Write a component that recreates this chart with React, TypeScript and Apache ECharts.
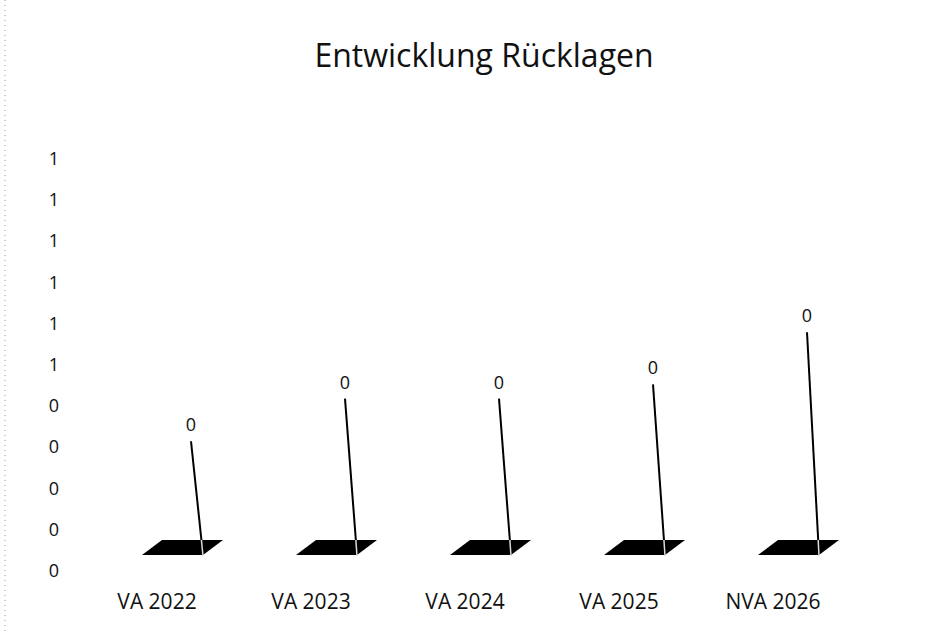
import React, { useEffect, useRef } from "react";
import * as echarts from "echarts";

const title = "Entwicklung Rücklagen";
const categories = ["VA 2022", "VA 2023", "VA 2024", "VA 2025", "NVA 2026"];
const values = [0.24, 0.33, 0.33, 0.36, 0.47];
const axisMin = 0;
const axisMax = 1;
const axisStep = 0.1;

const fmt = (v: number) => String(Math.round(v));

export default function App() {
  const ref = useRef<HTMLDivElement>(null);
  useEffect(() => {
    document.body.style.margin = "0";
    const chart = echarts.init(ref.current!, undefined, { renderer: "svg" });
    const font = "'Open Sans', 'DejaVu Sans', sans-serif";
    chart.setOption({
      animation: false,
      backgroundColor: "#ffffff",
      title: {
        text: title,
        left: 479,
        top: 33,
        textAlign: "center",
        textStyle: { fontFamily: font, fontSize: 32, fontWeight: "normal", color: "#111" },
      },
      grid: [
        { left: 80, right: 99, top: 158, bottom: 62 },
        { left: 126, right: 53, top: 81, bottom: 77 },
      ],
      xAxis: [
        {
          type: "category",
          gridIndex: 0,
          data: categories,
          axisLine: { show: false },
          axisTick: { show: false },
          axisLabel: { fontFamily: font, fontSize: 21, color: "#111", margin: 20 },
        },
        { type: "category", gridIndex: 1, data: categories, show: false },
      ],
      yAxis: [
        {
          type: "value",
          gridIndex: 0,
          min: axisMin,
          max: axisMax,
          interval: axisStep,
          axisLine: { show: false },
          axisTick: { show: false },
          splitLine: { show: false },
          axisLabel: {
            fontFamily: font,
            fontSize: 18,
            color: "#111",
            margin: 21,
            formatter: (v: number) => fmt(v),
          },
        },
        { type: "value", gridIndex: 1, min: axisMin, max: axisMax, show: false },
      ],
      graphic: [
        {
          type: "line",
          shape: { x1: 5, y1: 0, x2: 5, y2: 632 },
          style: { stroke: "#999", lineWidth: 1, lineDash: [1, 4] },
        },
      ],
      series: [
        {
          type: "custom",
          xAxisIndex: 1,
          yAxisIndex: 1,
          data: categories.map((c, i) => [i, values[i]]),
          renderItem: (params: any, api: any) => {
            const idx = api.value(0);
            const v = api.value(1);
            const base = api.coord([idx, 0]);
            const top = api.coord([idx, v]);
            const x0 = base[0];
            const y0 = base[1];
            const xt = x0 - 12;
            const yt = top[1];
            const h = y0 - yt;
            const xm = x0 - 12 * (15 / h);
            return {
              type: "group",
              children: [
                {
                  type: "polygon",
                  shape: { points: [[x0 - 61, y0], [x0 - 41, y0 - 15], [x0 + 20, y0 - 15], [x0, y0]] },
                  style: { fill: "#000" },
                },
                {
                  type: "line",
                  shape: { x1: xt, y1: yt, x2: xm, y2: y0 - 15 },
                  style: { stroke: "#000", lineWidth: 2 },
                },
                {
                  type: "line",
                  shape: { x1: xm, y1: y0 - 15, x2: x0, y2: y0 + 1 },
                  style: { stroke: "#ddd", lineWidth: 1.5 },
                },
                {
                  type: "text",
                  style: {
                    text: fmt(v),
                    x: xt,
                    y: yt - 8,
                    textAlign: "center",
                    textVerticalAlign: "bottom",
                    font: `18px ${font}`,
                    fill: "#111",
                  },
                },
              ],
            };
          },
        },
      ],
    });
    return () => chart.dispose();
  }, []);
  return <div ref={ref} style={{ width: 949, height: 632 }} />;
}
